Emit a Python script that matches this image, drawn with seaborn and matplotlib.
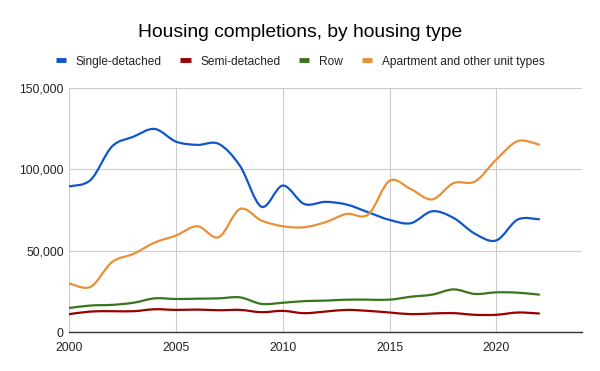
import numpy as np
import pandas as pd
import seaborn as sns
import matplotlib.pyplot as plt
from matplotlib.path import Path
from matplotlib.patches import PathPatch
from matplotlib.lines import Line2D
from matplotlib.ticker import FuncFormatter

years = list(range(2000, 2023))

single_detached = [89500, 93500, 114000, 120000, 124800, 117000, 115000, 115600, 102000, 77000,
                   90000, 78700, 80000, 78300, 73600, 68900, 66900, 74200, 70100, 60400,
                   56300, 69100, 69300]
semi_detached = [11000, 12600, 12800, 12800, 14000, 13600, 13800, 13400, 13600, 12200,
                 13000, 11600, 12600, 13600, 13000, 12000, 11000, 11400, 11600, 10600,
                 10600, 12000, 11400]
row = [14800, 16300, 16700, 18000, 20700, 20300, 20500, 20700, 21300, 17300,
       18000, 19000, 19300, 19900, 19900, 19900, 21700, 23000, 26200, 23400,
       24400, 24200, 23000]
apartment = [29900, 27800, 43000, 48000, 55000, 59300, 65000, 58300, 75600, 68500,
             65000, 64400, 67500, 72600, 72200, 92900, 87800, 81500, 91500, 92500,
             106000, 117300, 115200]

series_names = ["Single-detached", "Semi-detached", "Row", "Apartment and other unit types"]
colors = ["#1155cc", "#990000", "#38761d", "#e69138"]

df = pd.DataFrame({
    "year": years * 4,
    "units": single_detached + semi_detached + row + apartment,
    "type": [n for n in series_names for _ in years],
})

sns.set_style("white")
plt.rcParams["font.family"] = ["Liberation Sans", "DejaVu Sans"]

fig = plt.figure(figsize=(6, 3.71), dpi=100)
ax = fig.add_axes([0.1155, 0.105, 0.854, 0.658])

sns.lineplot(data=df, x="year", y="units", hue="type", hue_order=series_names,
             palette=colors, legend=False, ax=ax, linewidth=1.6)


def smooth_path(x, y):
    # catmull-rom -> cubic bezier, so the drawn line curves through each point
    pts = np.column_stack([x, y]).astype(float)
    ext = np.vstack([pts[0], pts, pts[-1]])
    verts = [pts[0]]
    codes = [Path.MOVETO]
    for i in range(len(pts) - 1):
        p0, p1, p2, p3 = ext[i], ext[i + 1], ext[i + 2], ext[i + 3]
        verts += [p1 + (p2 - p0) / 6, p2 - (p3 - p1) / 6, p2]
        codes += [Path.CURVE4] * 3
    return Path(verts, codes)


for line in list(ax.lines):
    xd, yd = line.get_xdata(), line.get_ydata()
    patch = PathPatch(smooth_path(xd, yd), fill=False, edgecolor=line.get_color(),
                      linewidth=line.get_linewidth(), capstyle="round", joinstyle="round")
    ax.add_patch(patch)
    line.set_visible(False)

ax.set_xlim(2000, 2024)
ax.set_ylim(0, 150000)
ax.set_xticks([2000, 2005, 2010, 2015, 2020])
ax.set_yticks([0, 50000, 100000, 150000])
ax.yaxis.set_major_formatter(FuncFormatter(lambda v, p: f"{v:,.0f}"))
ax.grid(True, color="#cccccc", linewidth=0.8)
ax.set_axisbelow(True)
for s in ["top", "right", "left"]:
    ax.spines[s].set_visible(False)
ax.spines["bottom"].set_color("#333333")
ax.spines["bottom"].set_linewidth(1.0)
ax.tick_params(length=0, labelsize=8.7, colors="#222222")
ax.tick_params(axis="y", pad=4)
ax.tick_params(axis="x", pad=7)
ax.set_xlabel("")
ax.set_ylabel("")

fig.text(0.5, 0.912, "Housing completions, by housing type", ha="center", va="center",
         fontsize=13.9, color="#000000")

handles = [Line2D([], [], color=c, linewidth=3.5, solid_capstyle="butt") for c in colors]
fig.legend(handles, series_names, loc="center", bbox_to_anchor=(0.5, 0.834), ncol=4,
           frameon=False, fontsize=8.6, handlelength=0.85, handletextpad=0.8,
           columnspacing=1.6, labelcolor="#222222")

fig.savefig("out.png", dpi=100)
